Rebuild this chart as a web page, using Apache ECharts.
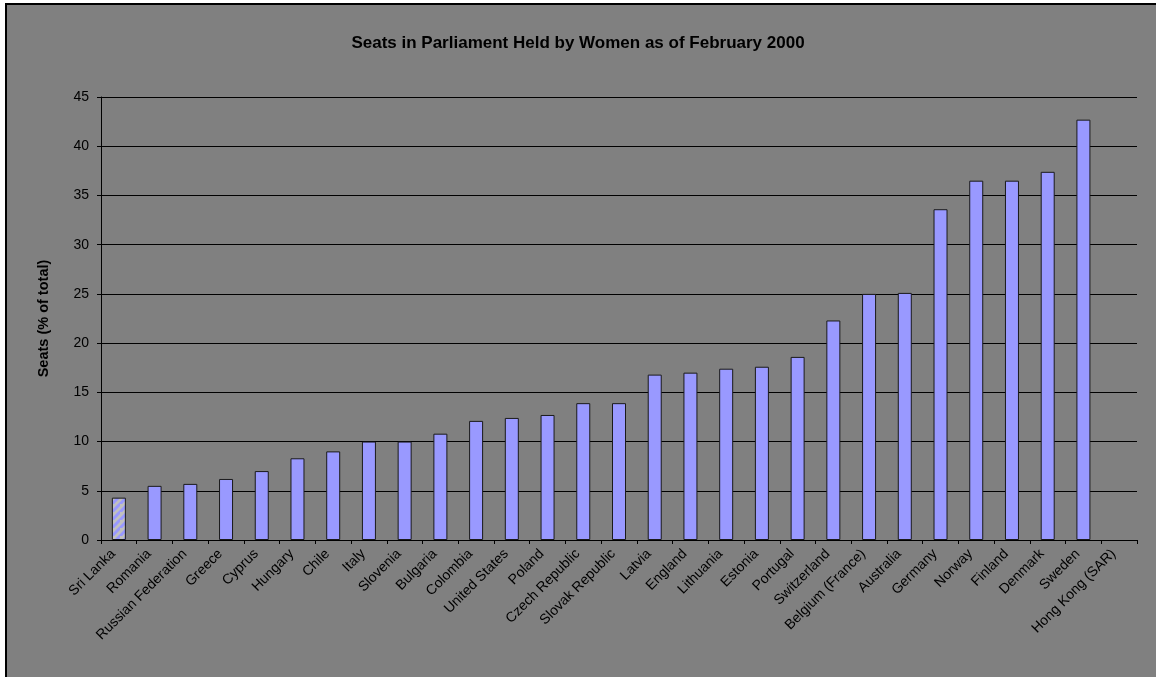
<!DOCTYPE html>
<html>
<head>
<meta charset="utf-8">
<script src="https://cdn.jsdelivr.net/npm/echarts@6/dist/echarts.min.js"></script>
<style>
html,body{margin:0;padding:0;background:#ffffff;}
#chart{width:1156px;height:677px;}
</style>
</head>
<body>
<div id="chart"></div>
<script>
const titleText = 'Seats in Parliament Held by Women as of February 2000';
const yAxisName = 'Seats (% of total)';
const categories = ['Sri Lanka','Romania','Russian Federation','Greece','Cyprus','Hungary','Chile','Italy','Slovenia','Bulgaria','Colombia','United States','Poland','Czech Republic','Slovak Republic','Latvia','England','Lithuania','Estonia','Portugal','Switzerland','Belgium (France)','Australia','Germany','Norway','Finland','Denmark','Sweden','Hong Kong (SAR)'];
const values = [4.3,5.5,5.7,6.2,7.0,8.3,9.0,10.0,10.0,10.8,12.1,12.4,12.7,13.9,13.9,16.8,17.0,17.4,17.6,18.6,22.3,25.0,25.1,33.6,36.5,36.5,37.4,42.7,null];
const hatchedIndex = [0];
const yTicks = {min:0, max:45, interval:5};

// hatch pattern
const pc = document.createElement('canvas');
pc.width = 8; pc.height = 8;
const px = pc.getContext('2d');
px.fillStyle = '#c0c0c0';
px.fillRect(0,0,8,8);
px.strokeStyle = '#9999ff';
px.lineWidth = 3;
[0,8,16].forEach(k=>{px.beginPath();px.moveTo(0,k);px.lineTo(k,0);px.stroke();});

const font = 'Liberation Sans, Arial, sans-serif';
const chart = echarts.init(document.getElementById('chart'), null, {renderer:'canvas'});
chart.setOption({
  backgroundColor:'#ffffff',
  animation:false,
  graphic:[{type:'rect', z:-10, silent:true, shape:{x:6,y:4,width:1200,height:800},
    style:{fill:'#808080', stroke:'#000', lineWidth:2}}],
  title:{text:titleText, left:'center', top:30,
    textStyle:{fontFamily:font, fontSize:17, fontWeight:'bold', color:'#000'}},
  grid:{left:101, right:19, top:97, bottom:137, containLabel:false},
  xAxis:{type:'category', data:categories, boundaryGap:true,
    axisLine:{lineStyle:{color:'#000', width:1}},
    axisTick:{show:true, interval:0, length:4, lineStyle:{color:'#000'}},
    axisLabel:{interval:0, rotate:45, margin:6, padding:[0,8,0,0], color:'#000', fontFamily:font, fontSize:14},
    splitLine:{show:false}},
  yAxis:{type:'value', min:yTicks.min, max:yTicks.max, interval:yTicks.interval,
    name:yAxisName, nameLocation:'middle', nameGap:50,
    nameTextStyle:{fontFamily:font, fontSize:14.5, fontWeight:'bold', color:'#000'},
    axisLine:{show:true, lineStyle:{color:'#000', width:1}},
    axisTick:{show:true, length:4, lineStyle:{color:'#000'}},
    axisLabel:{margin:12, color:'#000', fontFamily:font, fontSize:14},
    splitLine:{show:true, lineStyle:{color:'#000', width:1}}},
  series:[{type:'bar', barWidth:14,
    itemStyle:{color:'#9999ff', borderColor:'#1a1a1a', borderWidth:1},
    data: values.map((v,i)=> hatchedIndex.includes(i)
      ? {value:v, itemStyle:{color:{image:pc, repeat:'repeat'}}}
      : v)}]
});
</script>
</body>
</html>
